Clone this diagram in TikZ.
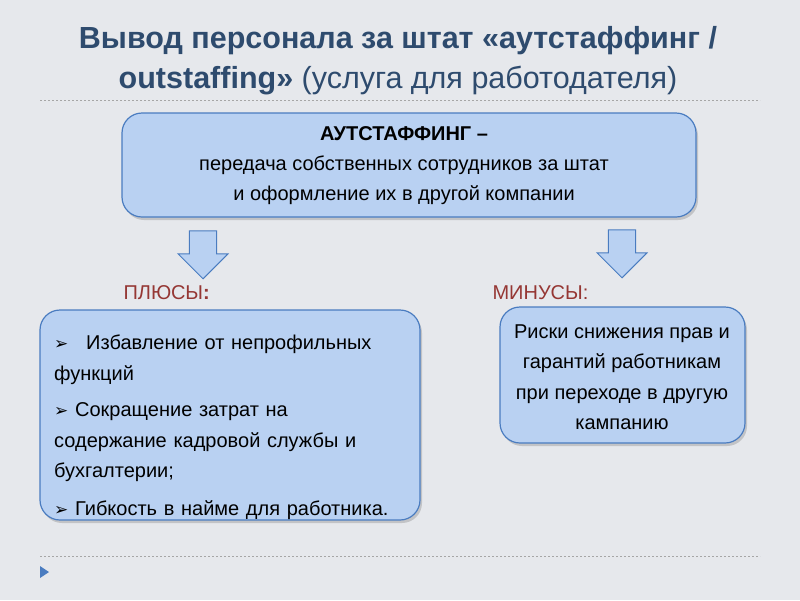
\documentclass[tikz,border=0pt]{standalone}
\usepackage{fontspec}
\setmainfont{Liberation Sans}
\newfontfamily\symf{DejaVu Sans}
\usetikzlibrary{shapes.arrows,shadows}
\definecolor{bg}{HTML}{E6E8EC}
\definecolor{ttl}{HTML}{2E4B6E}
\definecolor{bfill}{HTML}{B9D1F2}
\definecolor{bline}{HTML}{4A7CC0}
\definecolor{red}{HTML}{953734}
\tikzset{
 box/.style={draw=bline,line width=1.2pt,fill=bfill,rounded corners=20pt,drop shadow={shadow xshift=2pt,shadow yshift=-3pt,opacity=0.35}},
 darr/.style={single arrow,shape border rotate=270,draw=bline,line width=1pt,fill=bfill,minimum width=50pt,single arrow head extend=8pt,minimum height=48pt,inner sep=9pt},
 sep/.style={draw=gray!70,dash pattern=on 2pt off 2pt,line width=0.8pt},
 txt/.style={font=\fontsize{20}{25}\selectfont,text=black}
}
\begin{document}
\begin{tikzpicture}[x=1pt,y=-1pt]
\fill[bg] (0,0) rectangle (800,600);
\useasboundingbox (0,0) rectangle (800,600);
\node[text=ttl,font=\fontsize{30.5}{40}\selectfont,align=center] (title) at (398,61) {\textbf{Вывод персонала за штат «аутстаффинг /}\\\textbf{outstaffing»} (услуга для работодателя)};
\draw[sep] (40,100) -- (760,100);
\draw[sep] (40,556) -- (760,556);
\draw[box] (122,113) rectangle (696,217);
\node[txt,align=center,font=\fontsize{20}{30}\selectfont] (top) at (404,166) {\textbf{АУТСТАФФИНГ –}\\передача  собственных сотрудников за штат\\и оформление их в другой компании};
\node[darr] (al) at (203,248) {};
\node[darr] (ar) at (622,247) {};
\node[txt,text=red,anchor=west] (plus) at (120,293) {ПЛЮСЫ\textbf{:}};
\node[txt,text=red,anchor=west] (minus) at (489,293) {МИНУСЫ:};
\draw[box] (40,310) rectangle (420,520);
\node[txt,anchor=north west,align=left,text width=370pt,font=\fontsize{20}{30.5}\selectfont,inner sep=0pt] (pl) at (54,335) {{\symf\fontsize{17}{20}\selectfont ➢}\;\; Избавление от непрофильных\\функций\\[6pt]{\symf\fontsize{17}{20}\selectfont ➢} Сокращение затрат на\\содержание кадровой службы и\\бухгалтерии;\\[7pt]{\symf\fontsize{17}{20}\selectfont ➢} Гибкость в найме для работника.};
\draw[box] (500,307) rectangle (745,443);
\node[txt,align=center,font=\fontsize{20}{30.5}\selectfont] (mi) at (622,377) {Риски снижения прав и\\гарантий работникам\\при переходе в другую\\кампанию};
\fill[bline] (40,566) -- (49,572) -- (40,578) -- cycle;
\end{tikzpicture}
\end{document}
